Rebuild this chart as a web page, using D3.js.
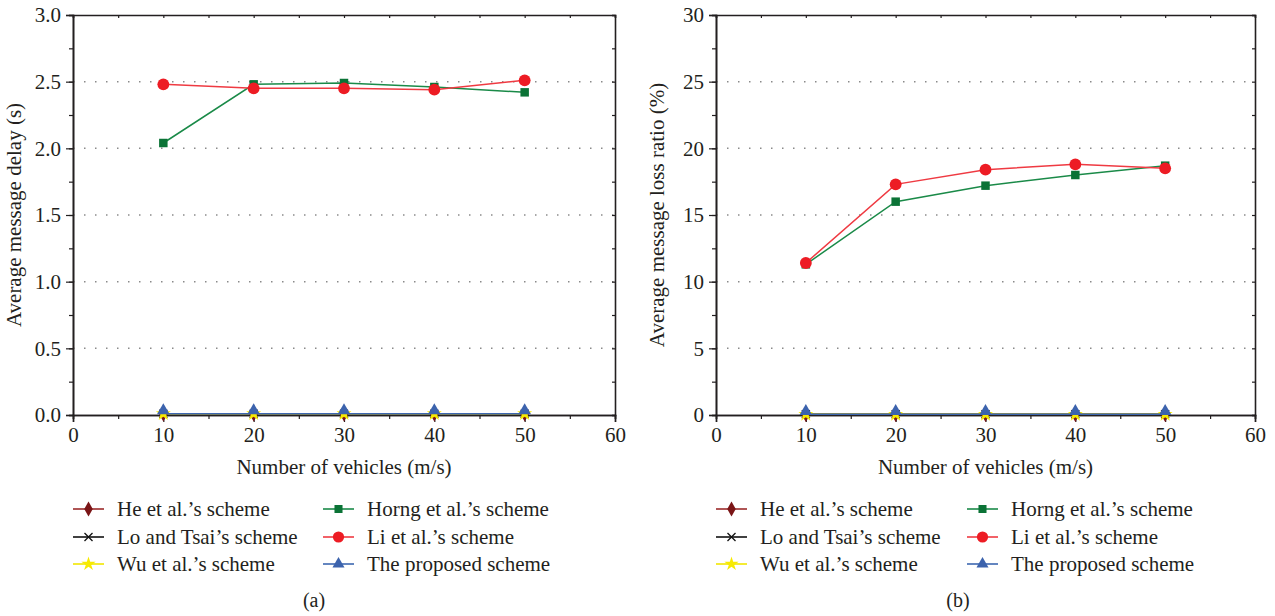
<!DOCTYPE html>
<html>
<head>
<meta charset="utf-8">
<script src="https://cdn.jsdelivr.net/npm/d3@7"></script>
<style>
  body { margin: 0; background: #fff; }
  svg text { font-family: "Liberation Serif", "DejaVu Serif", serif; fill: #231f20; }
</style>
</head>
<body>
<svg width="1275" height="616"></svg>
<script>
// data
var vehicles = [10, 20, 30, 40, 50];

var delayHe = [0.01, 0.01, 0.01, 0.01, 0.01];
var delayLo = [0.01, 0.01, 0.01, 0.01, 0.01];
var delayWu = [0.01, 0.01, 0.01, 0.01, 0.01];
var delayHorng = [2.04, 2.48, 2.49, 2.46, 2.42];
var delayLi = [2.48, 2.45, 2.45, 2.44, 2.51];
var delayProposed = [0.01, 0.01, 0.01, 0.01, 0.01];

var lossHe = [0.05, 0.05, 0.05, 0.05, 0.05];
var lossLo = [0.05, 0.05, 0.05, 0.05, 0.05];
var lossWu = [0.05, 0.05, 0.05, 0.05, 0.05];
var lossHorng = [11.3, 16.0, 17.2, 18.0, 18.7];
var lossLi = [11.4, 17.3, 18.4, 18.8, 18.5];
var lossProposed = [0.05, 0.05, 0.05, 0.05, 0.05];

var xTicks = [0, 10, 20, 30, 40, 50, 60];
var delayTicks = [0, 0.5, 1.0, 1.5, 2.0, 2.5, 3.0];
var lossTicks = [0, 5, 10, 15, 20, 25, 30];

var schemes = ["He et al.\u2019s scheme", "Lo and Tsai\u2019s scheme", "Wu et al.\u2019s scheme",
               "Horng et al.\u2019s scheme", "Li et al.\u2019s scheme", "The proposed scheme"];

var styles = [
  {line: "#9b2a2a", fill: "#7a1517", sym: d3.symbolDiamond, size: 70},
  {line: "#111", fill: "none", sym: d3.symbolCross, size: 60, xmark: true},
  {line: "#f2e600", fill: "#f7ea00", sym: d3.symbolStar, size: 70},
  {line: "#1a8a48", fill: "#0b7336", sym: d3.symbolSquare, size: 72},
  {line: "#ef3a42", fill: "#ed1c24", sym: d3.symbolCircle, size: 110},
  {line: "#3d68b0", fill: "#3c63ad", sym: d3.symbolTriangle, size: 70}
];

var svg = d3.select("svg");

function xMark(sel) {
  sel.append("path").attr("d", "M-4,-4L4,4M-4,4L4,-4")
     .attr("stroke", "#111").attr("stroke-width", 1.3).attr("fill", "none");
}

function drawPanel(p) {
  var x = d3.scaleLinear().domain([0, 60]).range([p.left, p.right]);
  var y = d3.scaleLinear().domain([0, p.ymax]).range([415, 15]);
  var g = svg.append("g");

  // dotted grid
  g.selectAll(".grid").data(p.yTicks.slice(1, -1)).enter().append("line")
   .attr("x1", p.left).attr("x2", p.right)
   .attr("y1", function(d) { return y(d); }).attr("y2", function(d) { return y(d); })
   .attr("stroke", "#8a8a8a").attr("stroke-width", 1.5).attr("stroke-dasharray", "1.5,9.5");

  // left axis
  var yMinor = d3.range(0, p.ymax + 1e-9, p.ymax / 12);
  g.append("g").attr("transform", "translate(" + p.left + ",0)")
   .call(d3.axisLeft(y).tickValues(yMinor).tickSize(4).tickFormat(""));
  g.append("g").attr("transform", "translate(" + p.left + ",0)")
   .call(d3.axisLeft(y).tickValues(p.yTicks).tickSize(7).tickPadding(5).tickFormat(p.fmt))
   .call(function(a) { a.selectAll("text").attr("font-size", 21); });
  // right axis
  g.append("g").attr("transform", "translate(" + p.right + ",0)")
   .call(d3.axisRight(y).tickValues(yMinor).tickSize(-3).tickFormat(""));
  // bottom axis
  var xMinor = d3.range(0, 61, 5);
  g.append("g").attr("transform", "translate(0,415)")
   .call(d3.axisBottom(x).tickValues(xMinor).tickSize(4).tickFormat(""));
  g.append("g").attr("transform", "translate(0,415)")
   .call(d3.axisBottom(x).tickValues(xTicks).tickSize(7).tickPadding(5).tickFormat(d3.format("d")))
   .call(function(a) { a.selectAll("text").attr("font-size", 21); });
  // top axis
  g.append("g").attr("transform", "translate(0,15)")
   .call(d3.axisTop(x).tickValues(xMinor).tickSize(-3).tickFormat(""));

  g.selectAll(".domain").attr("stroke", "#231f20").attr("stroke-width", 1.6);
  g.selectAll(".tick line").attr("stroke", "#231f20").attr("stroke-width", 1.2);

  // axis titles
  g.append("text").attr("x", (p.left + p.right) / 2).attr("y", 474)
   .attr("text-anchor", "middle").attr("font-size", 21).text("Number of vehicles (m/s)");
  g.append("text").attr("transform", "translate(" + (p.left - 52) + ",215) rotate(-90)")
   .attr("text-anchor", "middle").attr("font-size", 21).text(p.ytitle);

  // series lines
  var line = d3.line().x(function(d, i) { return x(vehicles[i]); }).y(function(d) { return y(d); });
  var order = [0, 1, 2, 5, 3, 4];
  order.forEach(function(k) {
    g.append("path").datum(p.series[k]).attr("d", line)
     .attr("fill", "none").attr("stroke", styles[k].line).attr("stroke-width", 1.5);
  });
  order.forEach(function(k) {
    var s = styles[k];
    var off = (k === 5) ? -3 : 0;
    var m = g.selectAll(".m" + k).data(p.series[k]).enter().append("g")
     .attr("transform", function(d, i) { return "translate(" + x(vehicles[i]) + "," + (y(d) + off) + ")"; });
    if (s.xmark) { m.call(xMark); }
    else {
      m.append("path").attr("d", d3.symbol().type(s.sym).size(s.size))
       .attr("fill", s.fill).attr("stroke", "none");
    }
  });

  // legend
  var rows = [509, 537, 564];
  schemes.forEach(function(name, k) {
    var col = k < 3 ? 0 : 1;
    var lx = p.left + col * p.legendCol;
    var ly = rows[k % 3];
    var s = styles[k];
    g.append("line").attr("x1", lx).attr("x2", lx + 31).attr("y1", ly).attr("y2", ly)
     .attr("stroke", s.line).attr("stroke-width", 1.6);
    var m = g.append("g").attr("transform", "translate(" + (lx + 15.5) + "," + ly + ")");
    if (s.xmark) { m.call(xMark); }
    else {
      m.append("path").attr("d", d3.symbol().type(s.sym).size(s.size * 0.9)).attr("fill", s.fill);
    }
    g.append("text").attr("x", lx + 44).attr("y", ly + 7).attr("font-size", 21).text(name);
  });

  g.append("text").attr("x", p.capX).attr("y", 607).attr("text-anchor", "middle")
   .attr("font-size", 20).text(p.caption);
}

drawPanel({
  left: 73, right: 615, ymax: 3, yTicks: delayTicks, fmt: d3.format(".1f"),
  ytitle: "Average message delay (s)",
  series: [delayHe, delayLo, delayWu, delayHorng, delayLi, delayProposed],
  legendCol: 250, capX: 314, caption: "(a)"
});

drawPanel({
  left: 716, right: 1255, ymax: 30, yTicks: lossTicks, fmt: d3.format("d"),
  ytitle: "Average message loss ratio (%)",
  series: [lossHe, lossLo, lossWu, lossHorng, lossLi, lossProposed],
  legendCol: 251, capX: 958, caption: "(b)"
});
</script>
</body>
</html>
